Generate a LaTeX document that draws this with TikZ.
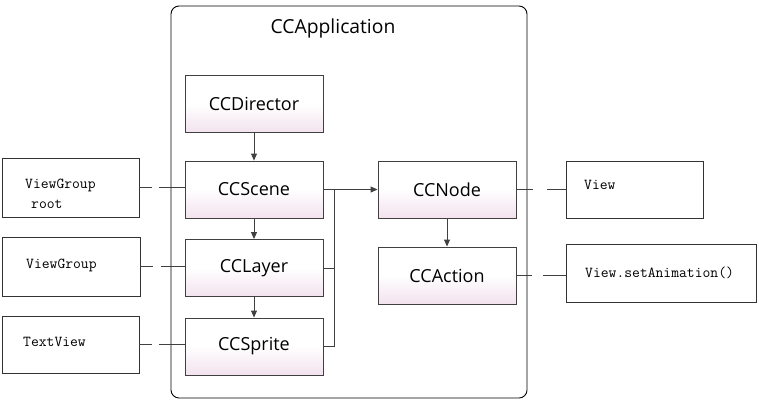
\documentclass[tikz,border=0pt]{standalone}
\usepackage{fontspec}
\setmainfont{Open Sans}
\usetikzlibrary{arrows.meta}
\definecolor{linec}{RGB}{64,64,64}
\definecolor{boxpink}{RGB}{242,226,238}
\tikzset{
  ccbox/.style={draw=linec, line width=0.9pt, top color=white, bottom color=boxpink, middle color=white,
    minimum width=138pt, minimum height=57pt, inner sep=0pt, font=\fontsize{18}{21}\selectfont},
  viewbox/.style={draw=black!80, line width=0.9pt, fill=white, inner sep=0pt},
  monotext/.style={anchor=west, inner sep=0pt, font=\ttfamily\fontsize{15.2}{18}\selectfont},
  conn/.style={draw=linec, line width=0.9pt},
  arr/.style={conn, -{Triangle[length=7pt,width=6pt]}},
}
\begin{document}
\begin{tikzpicture}[x=1pt,y=-1pt]
\useasboundingbox (0,0) rectangle (759,405);
% outer frame
\draw[black, line width=0.9pt, rounded corners=8pt] (171,6) rectangle (527,398);
\node[font=\fontsize{19.3}{23}\selectfont] (app) at (333,28) {CCApplication};
% main boxes
\node[ccbox] (dir) at (254,104) {CCDirector};
\node[ccbox] (scene) at (254,189.5) {CCScene};
\node[ccbox] (layer) at (254,268) {CCLayer};
\node[ccbox] (sprite) at (254,346.5) {CCSprite};
\node[ccbox] (node) at (447,189.5) {CCNode};
\node[ccbox] (action) at (447,275.5) {CCAction};
% left / right boxes
\node[viewbox, minimum width=137pt, minimum height=59pt] (vg1) at (70.5,187.5) {};
\node[viewbox, minimum width=138pt, minimum height=59pt] (vg2) at (71,266.5) {};
\node[viewbox, minimum width=137pt, minimum height=57pt] (tv) at (70.5,344.5) {};
\node[viewbox, minimum width=137pt, minimum height=57pt] (view) at (634.5,189.5) {};
\node[viewbox, minimum width=190pt, minimum height=58pt] (anim) at (661,273) {};
\node[monotext] (vg1t) at (25,185) {ViewGroup};
\node[monotext] (vg1r) at (31,204) {root};
\node[monotext] (vg2t) at (26,265) {ViewGroup};
\node[monotext] (tvt) at (23,342) {TextView};
\node[monotext] (viewt) at (584,185) {View};
\node[monotext] (animt) at (585,273) {View.setAnimation()};
% arrows
\draw[arr] (dir) -- (scene);
\draw[arr] (scene) -- (layer);
\draw[arr] (layer) -- (sprite);
\draw[arr] (node) -- (action);
% bus
\coordinate (bus) at (334,189.5);
\draw[arr] (scene.east) -- (bus) -- (node.west);
\draw[conn] (bus) |- (sprite.east);
\draw[conn] (layer.east) -- (layer.east -| bus);
% broken connectors
\draw[conn, dash pattern=on 13pt off 7pt on 80pt] (vg1.east) -- (vg1.east -| scene.west);
\draw[conn, dash pattern=on 13pt off 8pt on 80pt] (vg2.east) -- (vg2.east -| layer.west);
\draw[conn, dash pattern=on 13pt off 7pt on 80pt] (tv.east) -- (tv.east -| sprite.west);
\draw[conn, dash pattern=on 17pt off 14pt on 80pt] (node.east) -- (node.east -| view.west);
\draw[conn, dash pattern=on 16pt off 11pt on 80pt] (action.east) -- (action.east -| anim.west);
\end{tikzpicture}
\end{document}
